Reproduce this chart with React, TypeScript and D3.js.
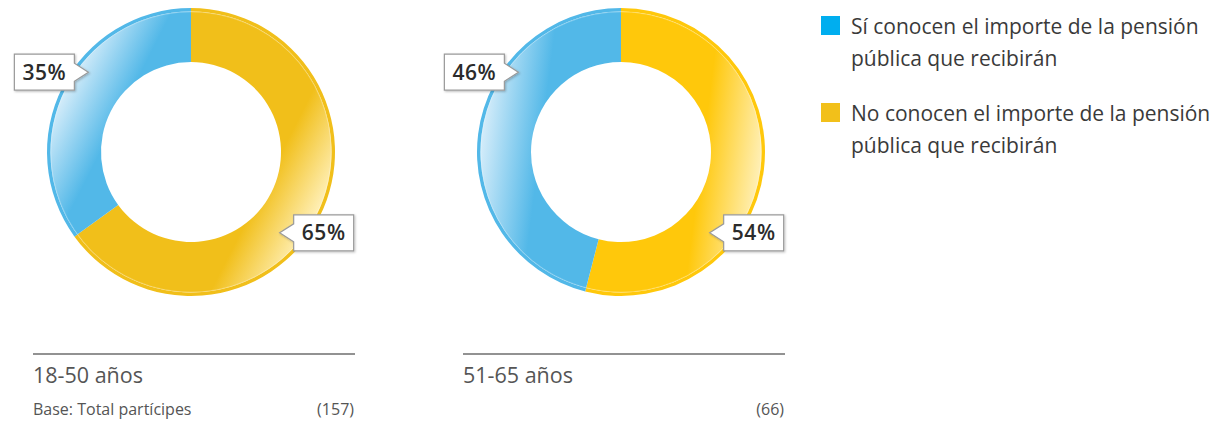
import React from "react";
import * as d3 from "d3";

const groups = ["18-50 años", "51-65 años"];
const siValues = [35, 46];
const noValues = [65, 54];
const baseCounts = ["(157)", "(66)"];
const baseLabels = ["Base: Total partícipes", ""];
const legendLines = [
  ["Sí conocen el importe de la pensión", "pública que recibirán"],
  ["No conocen el importe de la pensión", "pública que recibirán"],
];
const legendColors = ["#00AEEF", "#F2C01A"];
const ringBase = [
  { si: "#52B8E8", no: "#F1BF1A" },
  { si: "#52B8E8", no: "#FFC80B" },
];
const lightColors = { si: "#D6EDFA", no: "#FFF0B8" };

const W = 1214;
const H = 428;
const R = 144;
const RI = 90;
const FONT = "'Open Sans', 'Noto Sans', sans-serif";

const xCenter = d3.scalePoint<string>().domain(groups).range([191, 621]);
const cy = 152;

function calloutPath(tx: number, ty: number, side: "left" | "right") {
  const w = 60, h = 36, gap = 14, pb = 9;
  if (side === "left") {
    const x1 = tx - gap, x0 = x1 - w, y0 = ty - h / 2, y1 = ty + h / 2;
    return {
      d: `M${x0},${y0}H${x1}V${ty - pb}L${tx},${ty}L${x1},${ty + pb}V${y1}H${x0}Z`,
      cx: (x0 + x1) / 2,
      cyy: ty,
    };
  }
  const x0 = tx + gap, x1 = x0 + w, y0 = ty - h / 2, y1 = ty + h / 2;
  return {
    d: `M${x0},${y0}H${x1}V${y1}H${x0}V${ty + pb}L${tx},${ty}L${x0},${ty - pb}Z`,
    cx: (x0 + x1) / 2,
    cyy: ty,
  };
}

export default function App() {
  const pie = d3
    .pie<{ key: string; value: number }>()
    .sort(null)
    .value((d) => d.value)
    .startAngle(0)
    .endAngle(2 * Math.PI);
  const arcMain = d3.arc<any>().innerRadius(RI).outerRadius(R - 3.5);
  const arcRim = d3.arc<any>().innerRadius(R - 3.5).outerRadius(R);

  // fixed callout anchor angles (radians, clockwise from 12 o'clock)
  const calloutDefs = { si: { ang: -0.91, r: 130 }, no: { ang: 2.31, r: 120 } };

  return (
    <svg
      width={W}
      height={H}
      style={{ position: "absolute", left: 0, top: 0, background: "#fff" }}
      fontFamily={FONT}
    >
      <defs>
        {groups.map((g, gi) => {
          const arcs = pie([
            { key: "no", value: noValues[gi] },
            { key: "si", value: siValues[gi] },
          ]);
          return arcs.map((a) => {
            const mid = (a.startAngle + a.endAngle) / 2;
            const dx = Math.sin(mid), dy = -Math.cos(mid);
            return (
              <linearGradient
                key={`g${gi}${a.data.key}`}
                id={`grad-${gi}-${a.data.key}`}
                gradientUnits="userSpaceOnUse"
                x1={0}
                y1={0}
                x2={dx * R}
                y2={dy * R}
              >
                <stop offset="0" stopColor={(ringBase[gi] as any)[a.data.key]} />
                <stop offset="0.56" stopColor={(ringBase[gi] as any)[a.data.key]} />
                <stop offset="0.98" stopColor={(lightColors as any)[a.data.key]} />
              </linearGradient>
            );
          });
        })}
        <filter id="shadow" x="-20%" y="-20%" width="140%" height="140%">
          <feDropShadow dx="1" dy="1" stdDeviation="0.8" floodColor="#000" floodOpacity="0.25" />
        </filter>
      </defs>

      {groups.map((g, gi) => {
        const cx = xCenter(g)!;
        const arcs = pie([
          { key: "no", value: noValues[gi] },
          { key: "si", value: siValues[gi] },
        ]);
        return (
          <g key={g}>
            <g transform={`translate(${cx},${cy})`}>
              {arcs.map((a) => (
                <g key={a.data.key}>
                  <path d={arcMain(a)!} fill={`url(#grad-${gi}-${a.data.key})`} />
                  <path d={arcRim(a)!} fill={(ringBase[gi] as any)[a.data.key]} />
                </g>
              ))}
              <circle r={R - 3.8} fill="none" stroke="#fff" strokeOpacity={0.35} strokeWidth={0.8} />
            </g>
            {arcs.map((a) => {
              const def = (calloutDefs as any)[a.data.key];
              const tx = cx + Math.sin(def.ang) * def.r;
              const ty = cy - Math.cos(def.ang) * def.r;
              const side = a.data.key === "si" ? "left" : "right";
              const c = calloutPath(tx, ty, side);
              return (
                <g key={`c${a.data.key}`}>
                  <path d={c.d} fill="#fff" stroke="#9a9a9a" strokeWidth={1.2} filter="url(#shadow)" />
                  <text
                    x={c.cx}
                    y={c.cyy}
                    dy="0.36em"
                    textAnchor="middle"
                    fontSize={21}
                    fontWeight={600}
                    letterSpacing={0.6}
                    fill="#2b2b2b"
                  >
                    {`${a.data.value}%`}
                  </text>
                </g>
              );
            })}
            <line x1={cx - 158} x2={cx + 164} y1={354} y2={354} stroke="#6e6e6e" strokeWidth={1.6} />
            <text x={cx - 158} y={383} fontSize={21.5} fill="#555">
              {g}
            </text>
            {baseLabels[gi] && (
              <text x={cx - 158} y={415} fontSize={16} fill="#555">
                {baseLabels[gi]}
              </text>
            )}
            <text x={cx + 163} y={415} fontSize={16} fill="#555" textAnchor="end">
              {baseCounts[gi]}
            </text>
          </g>
        );
      })}

      {legendLines.map((lines, li) => {
        const y0 = 16 + li * 87;
        return (
          <g key={li}>
            <rect x={821} y={y0} width={19} height={19} fill={legendColors[li]} />
            {lines.map((t, k) => (
              <text key={k} x={851} y={y0 + 18 + k * 32} fontSize={21} fill="#3a3a3a">
                {t}
              </text>
            ))}
          </g>
        );
      })}
    </svg>
  );
}
